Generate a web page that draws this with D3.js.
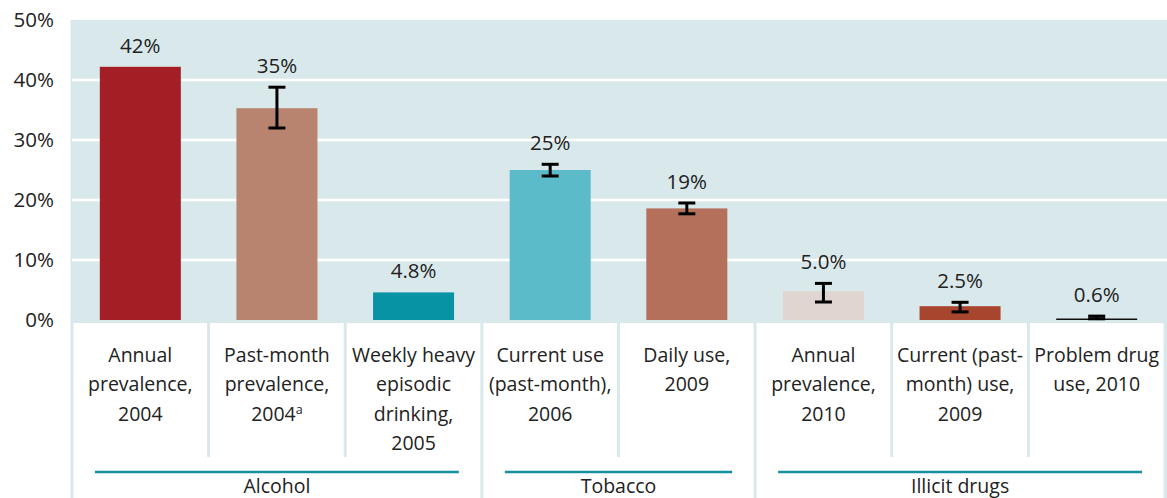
<!DOCTYPE html>
<html>
<head>
<meta charset="utf-8">
<script src="https://cdn.jsdelivr.net/npm/d3@7"></script>
<style>
    body { margin: 0; background: #fff; }
    text { font-family: "Open Sans", sans-serif; fill: #222; }
</style>
</head>
<body>
<div class="chart"></div>
<script>
var categories = ['alc1', 'alc2', 'alc3', 'tob1', 'tob2', 'ill1', 'ill2', 'ill3'];
var categoryLines = [
    ['Annual', 'prevalence,', '2004'],
    ['Past-month', 'prevalence,', '2004|a'],
    ['Weekly heavy', 'episodic', 'drinking,', '2005'],
    ['Current use', '(past-month),', '2006'],
    ['Daily use,', '2009'],
    ['Annual', 'prevalence,', '2010'],
    ['Current (past-', 'month) use,', '2009'],
    ['Problem drug', 'use, 2010']
];
var values = [42.2, 35.3, 4.6, 25.0, 18.6, 4.8, 2.3, 0.25];
var valueLabels = ['42%', '35%', '4.8%', '25%', '19%', '5.0%', '2.5%', '0.6%'];
var errLow = [null, 32.0, null, 24.0, 17.7, 3.0, 1.35, 0.2];
var errHigh = [null, 38.8, null, 25.95, 19.5, 6.1, 2.95, 0.65];
var barColors = ['#a31f25', '#b8836f', '#0793a4', '#5bbbc8', '#b5705b', '#e0d5d1', '#a8452f', '#111111'];
var groups = ['Alcohol', 'Tobacco', 'Illicit drugs'];
var groupStart = [0, 3, 5];
var groupEnd = [2, 4, 7];
var yTicks = [0, 10, 20, 30, 40, 50];

var width = 1167;
var height = 498;
var panelBlue = '#d9e8eb';

var svg = d3.select('.chart')
    .append('svg')
    .attr('width', width)
    .attr('height', height);

var xScale = d3.scaleBand()
    .domain(categories)
    .range([72, 1165])
    .paddingInner(0.407)
    .paddingOuter(0.2035);
var step = xScale.step();
// left edge of each category cell
var cellX = i => 72 + i * step;

var yScale = d3.scaleLinear()
    .domain([0, 50])
    .range([320, 20]);

// light blue panel behind everything
svg.append('rect')
    .attr('x', 70.5)
    .attr('y', yScale(50))
    .attr('width', width - 70.5)
    .attr('height', height - yScale(50))
    .attr('fill', panelBlue);

// white gridlines
svg.append('g')
    .selectAll('line')
    .data(yTicks.filter(d => d > 0 && d < 50))
    .join('line')
    .attr('x1', 72)
    .attr('x2', width)
    .attr('y1', d => yScale(d))
    .attr('y2', d => yScale(d))
    .attr('stroke', '#fff')
    .attr('stroke-width', 2.5);

// white label cells, one block per group
svg.append('g')
    .selectAll('rect')
    .data(groups)
    .join('rect')
    .attr('x', (d, i) => cellX(groupStart[i]) + 1.5)
    .attr('y', 323)
    .attr('width', (d, i) => (groupEnd[i] - groupStart[i] + 1) * step - 3)
    .attr('height', height - 323)
    .attr('fill', '#fff');

// separators between categories inside a group
var innerEdges = [];
groups.forEach((g, i) => {
    for (var k = groupStart[i] + 1; k <= groupEnd[i]; k++) innerEdges.push(k);
});
svg.append('g')
    .selectAll('rect')
    .data(innerEdges)
    .join('rect')
    .attr('x', d => cellX(d) - 1.5)
    .attr('y', 323)
    .attr('width', 3)
    .attr('height', 457 - 323)
    .attr('fill', panelBlue);

/**
 * y axis
 */
var yAxis = d3.axisLeft(yScale).tickValues(yTicks).tickSize(0).tickPadding(0)
    .tickFormat(d => d + '%');
svg.append('g')
    .attr('transform', 'translate(54, 0)')
    .call(yAxis)
    .call(g => g.select('.domain').remove())
    .selectAll('text')
    .attr('font-size', 20.5)
    .attr('fill', '#222')
    .style('font-family', '"Open Sans", sans-serif');

/**
 * bars
 */
svg.append('g')
    .selectAll('rect')
    .data(categories)
    .join('rect')
    .attr('x', d => xScale(d))
    .attr('width', xScale.bandwidth())
    .attr('y', (d, i) => yScale(values[i]))
    .attr('height', (d, i) => yScale(0) - yScale(values[i]))
    .attr('fill', (d, i) => barColors[i]);

// error bars
var errs = categories.map((d, i) => ({ c: d, lo: errLow[i], hi: errHigh[i] }))
    .filter(d => d.lo !== null);
var eg = svg.append('g')
    .attr('stroke', '#000')
    .attr('stroke-width', 3)
    .attr('fill', 'none');
var cx = d => xScale(d.c) + xScale.bandwidth() / 2;
eg.selectAll('.stem').data(errs).join('line')
    .attr('x1', cx).attr('x2', cx)
    .attr('y1', d => yScale(d.lo)).attr('y2', d => yScale(d.hi));
eg.selectAll('.capHi').data(errs).join('line')
    .attr('x1', d => cx(d) - 8.5).attr('x2', d => cx(d) + 8.5)
    .attr('y1', d => yScale(d.hi)).attr('y2', d => yScale(d.hi));
eg.selectAll('.capLo').data(errs).join('line')
    .attr('x1', d => cx(d) - 8.5).attr('x2', d => cx(d) + 8.5)
    .attr('y1', d => yScale(d.lo)).attr('y2', d => yScale(d.lo));

// value labels
svg.append('g')
    .selectAll('text')
    .data(categories)
    .join('text')
    .attr('x', d => xScale(d) + xScale.bandwidth() / 2)
    .attr('y', (d, i) => yScale(Math.max(values[i], errHigh[i] || 0)) - 14)
    .attr('text-anchor', 'middle')
    .attr('font-size', 20.5)
    .text((d, i) => valueLabels[i]);

// category labels
var lab = svg.append('g')
    .selectAll('text')
    .data(categories)
    .join('text')
    .attr('text-anchor', 'middle')
    .attr('font-size', 19.5)
    .attr('x', (d, i) => cellX(i) + step / 2)
    .attr('y', 362);
lab.each(function(d, i) {
    var t = d3.select(this);
    categoryLines[i].forEach((line, j) => {
        var parts = line.split('|');
        t.append('tspan')
            .attr('x', cellX(i) + step / 2)
            .attr('y', 362 + j * 29.3)
            .text(parts[0]);
        if (parts[1]) {
            t.append('tspan')
                .attr('font-size', 12.5)
                .attr('dy', -7)
                .text(parts[1]);
        }
    });
});

// group underlines and names
var gg = svg.append('g');
gg.selectAll('line')
    .data(groups)
    .join('line')
    .attr('x1', (d, i) => cellX(groupStart[i]) + 23)
    .attr('x2', (d, i) => cellX(groupEnd[i] + 1) - 23)
    .attr('y1', 472)
    .attr('y2', 472)
    .attr('stroke', '#168fa0')
    .attr('stroke-width', 2.3);
gg.selectAll('text')
    .data(groups)
    .join('text')
    .attr('x', (d, i) => (cellX(groupStart[i]) + cellX(groupEnd[i] + 1)) / 2)
    .attr('y', 493)
    .attr('text-anchor', 'middle')
    .attr('font-size', 19.5)
    .text(d => d);
</script>
</body>
</html>
